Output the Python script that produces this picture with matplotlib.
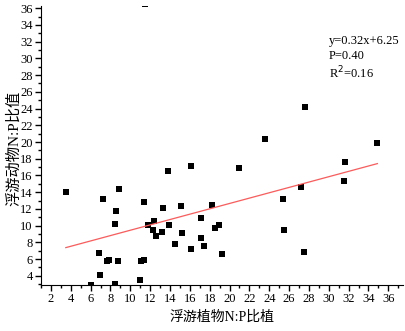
import matplotlib
matplotlib.use('Agg')
import matplotlib.pyplot as plt
from matplotlib.ticker import MultipleLocator
import numpy as np

plt.rcParams['font.family'] = ['Liberation Serif', 'Noto Sans CJK SC']

# phytoplankton N:P (x) vs zooplankton N:P (y)
phyto_np = [3.5, 7.2, 8.85, 8.6, 8.45, 6.8, 6.9, 6.0, 7.7, 7.9, 8.75, 8.45,
            10.95, 11.05, 11.4, 11.4, 11.8, 12.35, 12.3, 12.6, 13.2, 13.25,
            13.8, 13.9, 14.55, 15.15, 15.2, 16.1, 16.15, 17.15, 17.15, 17.45,
            18.2, 18.5, 18.95, 19.25, 20.95, 23.55, 25.4, 25.5, 27.2, 27.5,
            27.6, 31.55, 31.65, 34.9, 11.45]
zoo_np = [14.0, 13.2, 14.4, 11.75, 10.25, 6.7, 4.15, 2.85, 5.8, 5.85, 5.8, 3.0,
          3.45, 5.8, 5.9, 12.85, 10.05, 10.6, 9.5, 8.8, 9.25, 12.1,
          16.5, 10.1, 7.8, 12.4, 9.1, 7.2, 17.15, 10.95, 8.55, 7.6,
          12.45, 9.75, 10.05, 6.65, 16.9, 20.4, 13.15, 9.45, 14.65, 6.85,
          24.2, 15.3, 17.65, 19.85, 36.45]

slope = 0.32
intercept = 6.25
fit_x = [3.5, 34.9]

fig = plt.figure(figsize=(4.06, 3.31), dpi=100)
ax = fig.add_axes([0.101, 0.139, 0.892, 0.843])

ax.plot(phyto_np, zoo_np, 's', color='black', ms=4.3, mew=0)
fx = np.array(fit_x)
ax.plot(fx, slope * fx + intercept, color='#ff5a5a', lw=0.9)

ax.set_xlim(1, 37.5)
ax.set_ylim(2.9, 36.27)
ax.xaxis.set_major_locator(MultipleLocator(2))
ax.xaxis.set_minor_locator(MultipleLocator(1))
ax.yaxis.set_major_locator(MultipleLocator(2))
ax.yaxis.set_minor_locator(MultipleLocator(1))
ax.tick_params(which='major', direction='out', length=4, width=1, labelsize=9, pad=2)
ax.tick_params(which='minor', direction='out', length=2, width=1)
ax.spines['top'].set_visible(False)
ax.spines['right'].set_visible(False)

ax.set_xlabel('浮游植物N:P比植', fontsize=10, labelpad=4)
ax.set_ylabel('浮游动物N:P比值', fontsize=11, labelpad=1)
ax.yaxis.set_label_coords(-0.055, 0.49)

ax.text(0.795, 0.895, 'y=0.32x+6.25\nP=0.40\nR$^2$=0.16', transform=ax.transAxes,
        fontsize=9, va='top', ha='left', linespacing=1.25)

fig.savefig('out.png', dpi=100)
